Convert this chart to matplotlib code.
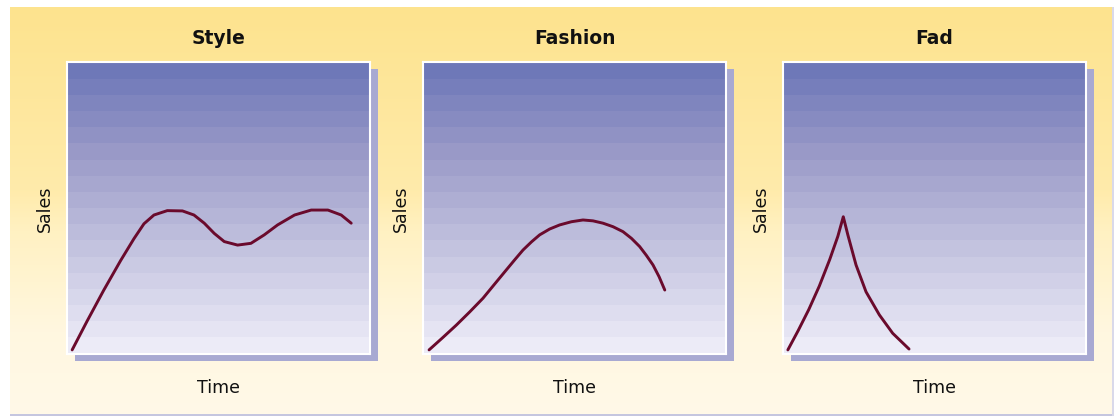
import numpy as np
import matplotlib
matplotlib.use("Agg")
import matplotlib.pyplot as plt
from matplotlib.patches import Rectangle
from matplotlib.colors import LinearSegmentedColormap

# Product life-cycle shapes: sales over time
titles = ["Style", "Fashion", "Fad"]
x_label = "Time"
y_label = "Sales"

style_time = [1.7, 6.6, 12.1, 17.7, 22.1, 25.4, 28.7, 33.1, 38.1, 41.9, 45.3, 48.6, 51.9, 56.3,
              60.7, 65.1, 69.5, 75.1, 80.6, 86.1, 90.5, 93.8]
style_sales = [1.4, 11.2, 21.8, 32.0, 39.5, 44.6, 47.6, 49.1, 49.0, 47.6, 44.8, 41.3, 38.5, 37.3,
               37.9, 40.8, 44.2, 47.6, 49.3, 49.3, 47.6, 44.8]

fashion_time = [2.0, 6.5, 11.0, 15.4, 19.8, 23.6, 27.5, 30.3, 33.0, 35.8, 38.5, 41.8, 45.1, 49.0,
                52.8, 56.1, 59.4, 62.7, 66.0, 68.8, 71.5, 73.7, 75.9, 77.9, 79.8]
fashion_sales = [1.4, 5.6, 9.9, 14.4, 19.1, 23.9, 28.8, 32.3, 35.6, 38.4, 40.8, 42.8, 44.2, 45.3,
                 45.9, 45.6, 44.8, 43.6, 41.9, 39.6, 36.8, 33.8, 30.5, 26.5, 21.9]

fad_time = [1.6, 5.0, 8.5, 12.0, 15.4, 18.1, 19.9, 21.4, 24.1, 27.4, 31.8, 36.2, 41.6]
fad_sales = [1.4, 8.0, 15.2, 23.3, 32.3, 40.3, 47.0, 40.8, 30.5, 21.3, 13.4, 7.1, 1.7]

series = [(style_time, style_sales), (fashion_time, fashion_sales), (fad_time, fad_sales)]

W, H = 1115, 418
fig = plt.figure(figsize=(W / 100, H / 100), dpi=100)
fig.patch.set_facecolor("white")

def fx(px):
    return px / W

def fy(py):
    return 1 - py / H

# Warm backdrop: yellow fading to cream
bg = fig.add_axes([fx(10), fy(414), fx(1113) - fx(10), fy(7) - fy(414)])
bg_cmap = LinearSegmentedColormap.from_list(
    "warm", [(0.0, "#fff9e8"), (0.2, "#fff7e0"), (0.45, "#fff1c2"), (0.55, "#ffebab"), (1.0, "#fde38e")])
grad = np.linspace(0, 1, 256).reshape(-1, 1)
bg.imshow(grad, cmap=bg_cmap, aspect="auto", origin="lower", extent=[0, 1, 0, 1])
bg.set_xlim(0, 1)
bg.set_ylim(0, 1)
bg.axis("off")

# thin lavender frame on the right and bottom of the backdrop
fig.patches.append(Rectangle((fx(10), fy(416)), fx(1113) - fx(10), 2 / H, transform=fig.transFigure,
                             facecolor="#c5c6df", edgecolor="none", zorder=1))
fig.patches.append(Rectangle((fx(1112), fy(416)), 2 / W, fy(7) - fy(416), transform=fig.transFigure,
                             facecolor="#d9d9ea", edgecolor="none", zorder=1))

panel_left = [67, 423, 783]
panel_w = 303
panel_top, panel_bottom = 62, 354

band_cmap = LinearSegmentedColormap.from_list(
    "blues", [(0.0, "#ecebf7"), (0.35, "#c4c4e0"), (0.7, "#9a9ac8"), (1.0, "#6e78b8")])
n_bands = 18
bands = (np.floor(np.linspace(0, 1, 400) * n_bands) / (n_bands - 1)).clip(0, 1).reshape(-1, 1)

label_font = ["DejaVu Sans"]

for i, (left, title, (t, s)) in enumerate(zip(panel_left, titles, series)):
    # drop shadow behind the plot panel
    fig.patches.append(Rectangle((fx(left + 8), fy(panel_bottom + 7)), panel_w / W,
                                 (panel_bottom - panel_top) / H, transform=fig.transFigure,
                                 facecolor="#a8a9d2", edgecolor="none", zorder=2))
    ax = fig.add_axes([fx(left), fy(panel_bottom), panel_w / W, (panel_bottom - panel_top) / H])
    ax.set_zorder(3)
    ax.imshow(bands, cmap=band_cmap, aspect="auto", origin="lower", extent=[0, 100, 0, 100],
              interpolation="nearest")
    ax.plot(t, s, color="#6a0a2c", lw=2.1, solid_capstyle="round", solid_joinstyle="round")
    ax.set_xlim(0, 100)
    ax.set_ylim(0, 100)
    ax.set_xticks([])
    ax.set_yticks([])
    for sp in ax.spines.values():
        sp.set_color("white")
        sp.set_linewidth(1.5)

    cx = left + panel_w / 2
    fig.text(fx(cx), fy(38), title, ha="center", va="center", fontsize=13.5, fontweight="bold",
             family=label_font, color="#111111")
    fig.text(fx(cx), fy(388), x_label, ha="center", va="center", fontsize=12.5,
             family=label_font, color="#111111")
    fig.text(fx(left - 22), fy(209), y_label, ha="center", va="center", fontsize=12.5, rotation=90,
             family=label_font, color="#111111")

fig.savefig("out.png", dpi=100)
